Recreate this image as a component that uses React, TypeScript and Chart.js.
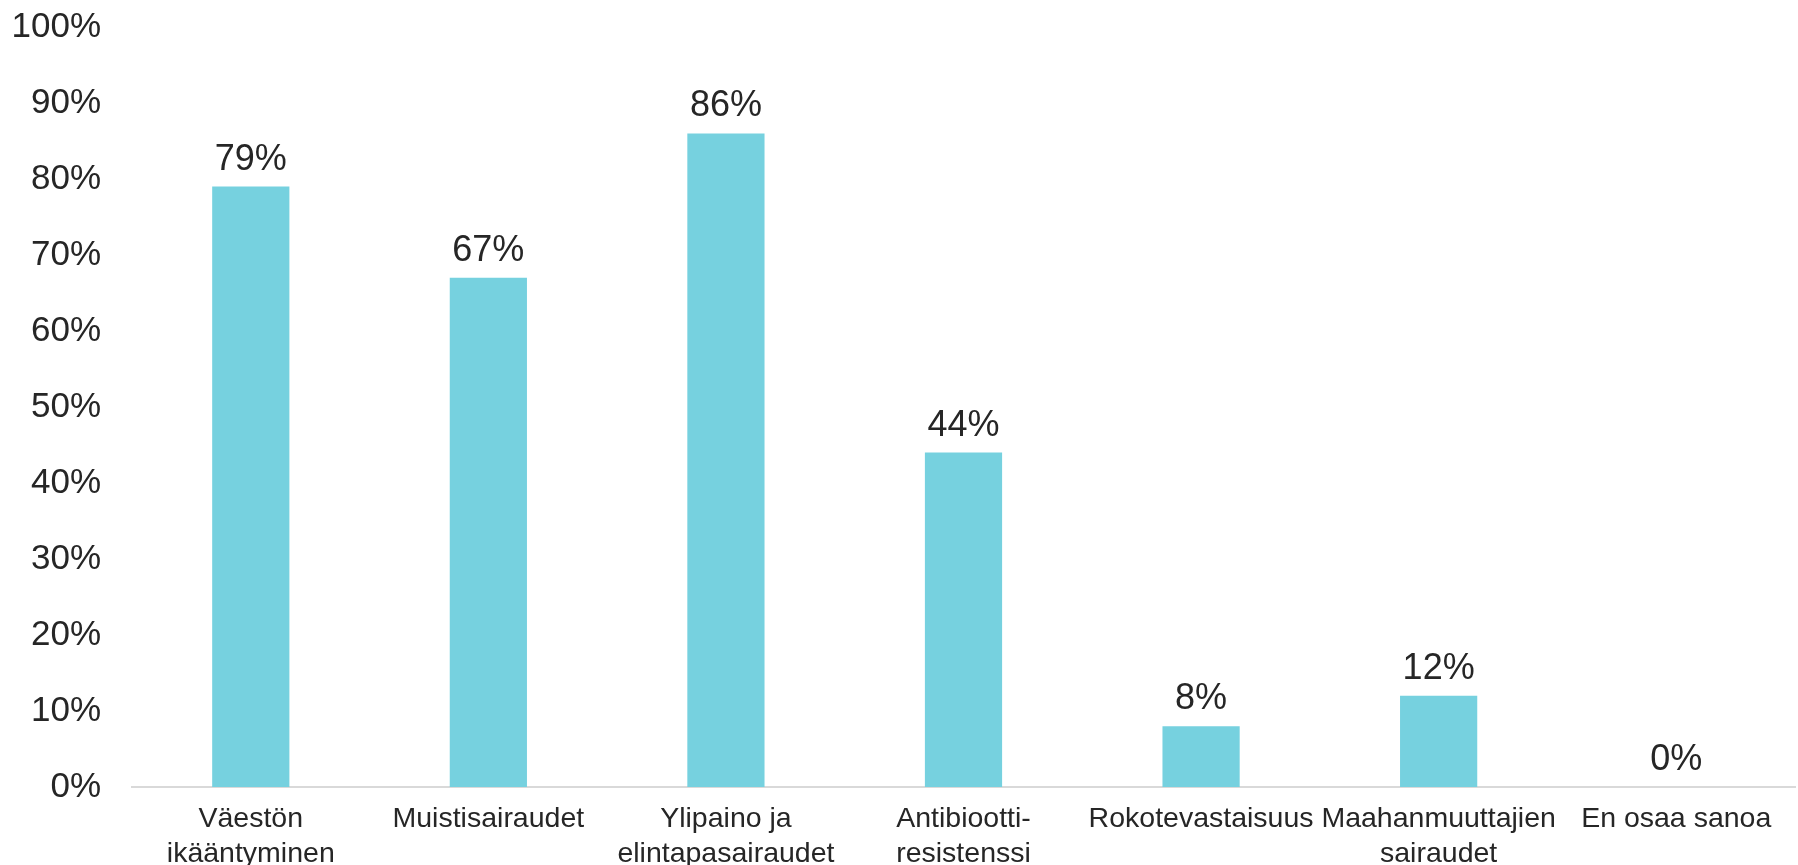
import React, { useEffect, useRef } from "react";
import { Chart, registerables } from "chart.js";

Chart.register(...registerables);

const categories: (string | string[])[] = [
  ["Väestön", "ikääntyminen"],
  "Muistisairaudet",
  ["Ylipaino ja", "elintapasairaudet"],
  ["Antibiootti-", "resistenssi"],
  "Rokotevastaisuus",
  ["Maahanmuuttajien", "sairaudet"],
  "En osaa sanoa",
];
const values: number[] = [79, 67, 86, 44, 8, 12, 0];
const yTicks: number[] = [0, 10, 20, 30, 40, 50, 60, 70, 80, 90, 100];

const FONT = "'Liberation Sans', Arial, sans-serif";
const TEXT = "#262626";
const BAR = "#76D1DF";

const dataLabelPlugin = {
  id: "dataLabels",
  afterDatasetsDraw(chart: any) {
    const ctx = chart.ctx;
    const meta = chart.getDatasetMeta(0);
    const data = chart.data.datasets[0].data as number[];
    ctx.save();
    ctx.font = `36px ${FONT}`;
    ctx.fillStyle = TEXT;
    ctx.textAlign = "center";
    ctx.textBaseline = "alphabetic";
    meta.data.forEach((el: any, i: number) => {
      ctx.fillText(`${data[i]}%`, el.x, el.y - 17);
    });
    ctx.restore();
  },
};

export default function App() {
  const ref = useRef<HTMLCanvasElement>(null);
  useEffect(() => {
    if (!ref.current) return;
    const chart = new Chart(ref.current, {
      type: "bar",
      data: {
        labels: categories,
        datasets: [
          {
            data: values,
            backgroundColor: BAR,
            categoryPercentage: 1,
            barPercentage: 0.325,
          },
        ],
      },
      options: {
        animation: false,
        responsive: false,
        maintainAspectRatio: false,
        layout: { padding: { top: 27, right: 3, left: 0, bottom: 0 } },
        plugins: {
          legend: { display: false },
          tooltip: { enabled: false },
        },
        scales: {
          x: {
            grid: { display: false, drawTicks: false },
            border: { display: true, color: "#d9d9d9", width: 2 },
            ticks: {
              color: TEXT,
              font: { family: FONT, size: 28.5, lineHeight: 1.22 },
              padding: 15,
              maxRotation: 0,
              autoSkip: false,
            },
            afterFit: (scale: any) => {
              scale.height = 865 - 787;
              scale.paddingLeft = 0;
              scale.paddingRight = 0;
            },
          },
          y: {
            min: 0,
            max: 100,
            afterBuildTicks: (scale: any) => {
              scale.ticks = yTicks.map((v) => ({ value: v }));
            },
            grid: { display: false, drawTicks: false },
            border: { display: false },
            ticks: {
              color: TEXT,
              font: { family: FONT, size: 35 },
              padding: 31,
              callback: (v: any) => `${v}%`,
            },
            afterFit: (scale: any) => {
              scale.width = 132;
              scale.paddingTop = 0;
              scale.paddingBottom = 0;
            },
          },
        },
      },
      plugins: [dataLabelPlugin],
    });
    return () => chart.destroy();
  }, []);
  return (
    <div style={{ position: "absolute", left: 0, top: 0, width: 1798, height: 865, background: "#fff" }}>
      <canvas ref={ref} width={1798} height={865} style={{ width: 1798, height: 865 }} />
    </div>
  );
}
